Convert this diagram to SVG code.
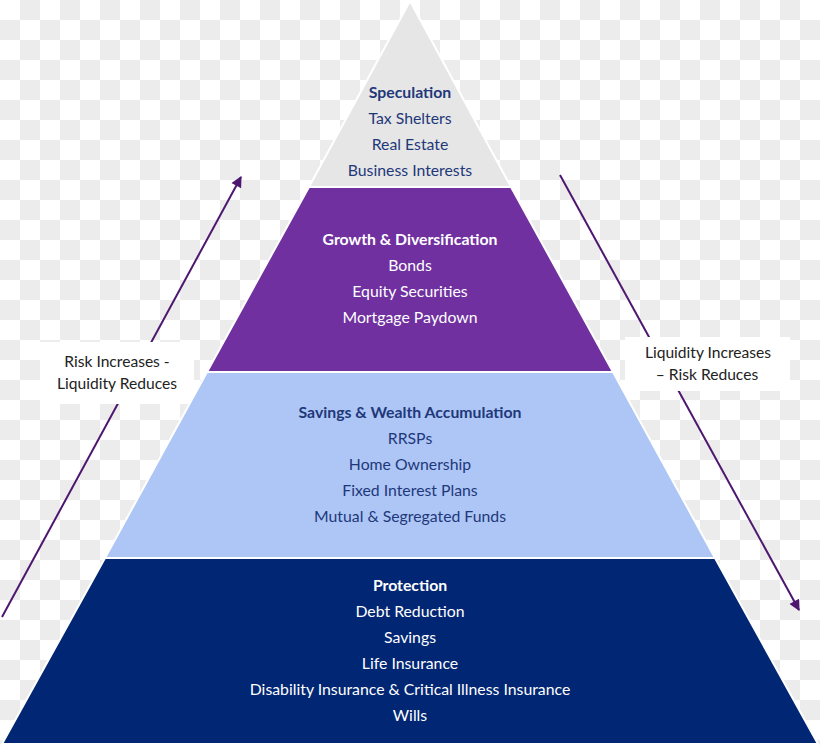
<svg xmlns="http://www.w3.org/2000/svg" width="820" height="745" viewBox="0 0 820 745">
  <defs>
    <pattern id="checker" x="0" y="0" width="40" height="40" patternUnits="userSpaceOnUse">
      <rect width="40" height="40" fill="#ffffff"/>
      <rect x="20" y="0" width="20" height="20" fill="#ececec"/>
      <rect x="0" y="20" width="20" height="20" fill="#ececec"/>
    </pattern>
    <marker id="arrow" viewBox="0 0 10 10" refX="9" refY="5" markerWidth="12" markerHeight="11" orient="auto" markerUnits="userSpaceOnUse">
      <path d="M0,0 L10,5 L0,10 z" fill="#4e176f"/>
    </marker>
    <style>
      .layer { stroke: #ffffff; stroke-width: 2; }
      .t { font-family: "Lato", "Open Sans", "Liberation Sans", sans-serif; font-size: 15.8px; text-anchor: middle; }
      .b { font-weight: bold; }
      .dark { fill: #1f387a; }
      .light { fill: #ffffff; }
      .lbl { font-family: "Lato", "Open Sans", "Liberation Sans", sans-serif; font-size: 15.6px; text-anchor: middle; fill: #222222; }
      .conn { stroke: #4e176f; stroke-width: 2; fill: none; }
    </style>
  </defs>

  <rect width="820" height="745" fill="url(#checker)"/>

  <g id="connectors">
    <line class="conn" x1="2" y1="617" x2="241" y2="177" marker-end="url(#arrow)"/>
    <line class="conn" x1="560" y1="175" x2="799" y2="610" marker-end="url(#arrow)"/>
  </g>

  <g id="label-left">
    <rect x="40" y="342" width="154" height="62" fill="#ffffff"/>
    <text class="lbl" x="117" y="367">Risk Increases -</text>
    <text class="lbl" x="117" y="389">Liquidity Reduces</text>
  </g>

  <g id="label-right">
    <rect x="625" y="337" width="165" height="54" fill="#ffffff"/>
    <text class="lbl" x="708" y="358">Liquidity Increases</text>
    <text class="lbl" x="707" y="380">– Risk Reduces</text>
  </g>

  <g id="speculation">
    <polygon class="layer" points="410,1 511,187 309,187" fill="#e6e6e6"/>
    <text class="t b dark" x="410" y="98">Speculation</text>
    <text class="t dark" x="410" y="124">Tax Shelters</text>
    <text class="t dark" x="410" y="150">Real Estate</text>
    <text class="t dark" x="410" y="176">Business Interests</text>
  </g>

  <g id="growth">
    <polygon class="layer" points="309,187 511,187 613,372 207,372" fill="#7030a0"/>
    <text class="t b light" x="410" y="245">Growth &amp; Diversification</text>
    <text class="t light" x="410" y="271">Bonds</text>
    <text class="t light" x="410" y="297">Equity Securities</text>
    <text class="t light" x="410" y="323">Mortgage Paydown</text>
  </g>

  <g id="savings">
    <polygon class="layer" points="207,372 613,372 715,558 105,558" fill="#adc6f6"/>
    <text class="t b dark" x="410" y="418">Savings &amp; Wealth Accumulation</text>
    <text class="t dark" x="410" y="444">RRSPs</text>
    <text class="t dark" x="410" y="470">Home Ownership</text>
    <text class="t dark" x="410" y="496">Fixed Interest Plans</text>
    <text class="t dark" x="410" y="522">Mutual &amp; Segregated Funds</text>
  </g>

  <g id="protection">
    <polygon class="layer" points="105,558 715,558 818,744 2,744" fill="#012673"/>
    <text class="t b light" x="410" y="591">Protection</text>
    <text class="t light" x="410" y="617">Debt Reduction</text>
    <text class="t light" x="410" y="643">Savings</text>
    <text class="t light" x="410" y="669">Life Insurance</text>
    <text class="t light" x="410" y="695">Disability Insurance &amp; Critical Illness Insurance</text>
    <text class="t light" x="410" y="721">Wills</text>
  </g>
</svg>
